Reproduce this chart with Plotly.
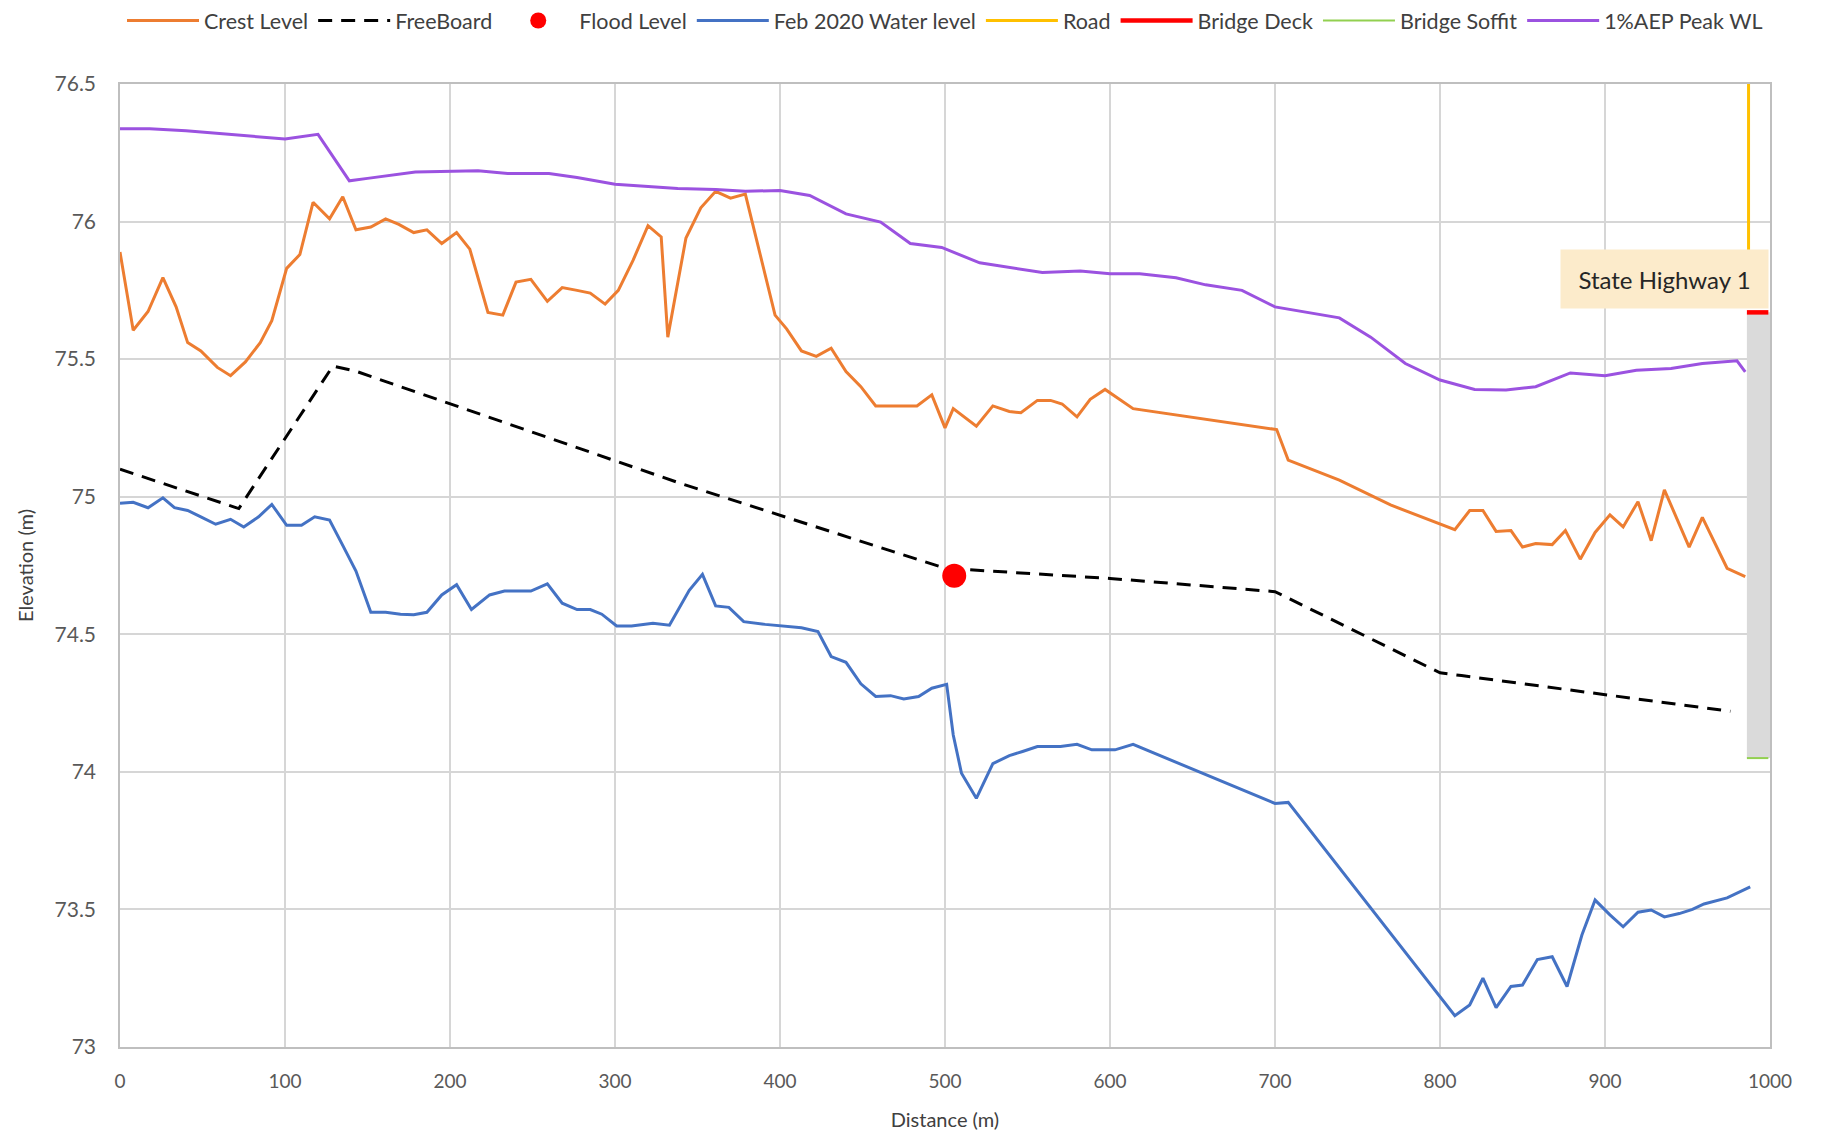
import plotly.graph_objects as go

# ---------------- data ----------------
crest_x = [0, 8, 17, 26, 34, 41, 49, 59, 67, 76, 85, 92, 101, 109, 117, 127, 135, 143, 152, 161,
           169, 178, 186, 195, 204, 212, 223, 232, 240, 249, 259, 268, 277, 285, 294, 302, 311, 320,
           328, 332, 343, 352, 361, 370, 379, 387, 397, 404, 413, 422, 431, 440, 449, 458, 483, 492,
           500, 505, 519, 529, 539, 546, 556, 564, 571, 580, 588, 597, 614, 701, 708, 739, 770, 809,
           818, 826, 834, 843, 850, 858, 868, 876, 885, 894, 903, 911, 920, 928, 936, 951, 959, 974, 985]
crest_y = [75.889, 75.605, 75.673, 75.796, 75.69, 75.56, 75.53, 75.47, 75.44, 75.49, 75.56, 75.64,
           75.83, 75.88, 76.07, 76.01, 76.09, 75.97, 75.98, 76.01, 75.99, 75.96, 75.97, 75.92, 75.96,
           75.90, 75.67, 75.66, 75.78, 75.79, 75.71, 75.76, 75.75, 75.74, 75.70, 75.75, 75.86, 75.985,
           75.944, 75.58, 75.94, 76.05, 76.11, 76.085, 76.10, 75.90, 75.66, 75.61, 75.53, 75.51, 75.54,
           75.455, 75.40, 75.33, 75.33, 75.37, 75.25, 75.32, 75.256, 75.33, 75.31, 75.305, 75.35, 75.35,
           75.337, 75.29, 75.354, 75.39, 75.32, 75.244, 75.133, 75.06, 74.97, 74.88, 74.95, 74.95,
           74.874, 74.877, 74.817, 74.83, 74.826, 74.877, 74.773, 74.87, 74.934, 74.89, 74.982, 74.84,
           75.025, 74.817, 74.925, 74.74, 74.71]

freeboard_x = [0, 72, 129, 143, 339, 500, 600, 700, 800, 813, 976]
freeboard_y = [75.1, 74.957, 75.475, 75.456, 75.05, 74.74, 74.703, 74.655, 74.36, 74.35, 74.22]

flood_x = [505.6]
flood_y = [74.713]

feb_x = [0, 8, 17, 26, 33, 41, 49, 58, 67, 75, 84, 92, 101, 110, 118, 127, 135, 143, 152, 161, 170,
         178, 186, 195, 204, 213, 224, 233, 249, 259, 268, 277, 285, 292, 301, 310, 323, 333, 345, 353,
         361, 369, 378, 391, 413, 423, 431, 440, 449, 458, 467, 475, 484, 492, 501, 505, 510, 519, 529,
         539, 547, 556, 570, 580, 589, 603, 614, 700, 708, 809, 818, 826, 834, 843, 850, 859, 868, 877,
         886, 894, 903, 911, 920, 928, 936, 945, 953, 960, 974, 988]
feb_y = [74.976, 74.98, 74.96, 74.996, 74.96, 74.95, 74.927, 74.90, 74.918, 74.89, 74.927, 74.972,
         74.896, 74.896, 74.927, 74.915, 74.823, 74.73, 74.58, 74.58, 74.573, 74.571, 74.58, 74.643,
         74.68, 74.59, 74.643, 74.657, 74.657, 74.683, 74.613, 74.59, 74.59, 74.573, 74.53, 74.53,
         74.54, 74.533, 74.66, 74.718, 74.603, 74.598, 74.546, 74.536, 74.524, 74.51, 74.419, 74.398,
         74.32, 74.274, 74.277, 74.265, 74.274, 74.304, 74.318, 74.134, 73.995, 73.904, 74.03, 74.059,
         74.074, 74.092, 74.092, 74.10, 74.08, 74.08, 74.10, 73.885, 73.889, 73.114, 73.153, 73.25,
         73.143, 73.22, 73.225, 73.318, 73.328, 73.22, 73.407, 73.534, 73.48, 73.437, 73.49, 73.498,
         73.473, 73.485, 73.50, 73.52, 73.542, 73.582]

aep_x = [0, 18, 40, 78, 100, 120, 139, 150, 179, 217, 235, 260, 277, 300, 318, 338, 361, 379, 400,
         418, 440, 461, 479, 498, 521, 559, 582, 600, 618, 640, 658, 680, 700, 720, 739, 758, 779, 800,
         821, 840, 858, 879, 900, 919, 940, 959, 980, 985]
aep_y = [76.337, 76.337, 76.33, 76.31, 76.30, 76.317, 76.148, 76.157, 76.18, 76.185, 76.175, 76.175,
         76.16, 76.136, 76.128, 76.12, 76.117, 76.11, 76.113, 76.095, 76.028, 75.998, 75.92, 75.906,
         75.85, 75.815, 75.82, 75.81, 75.81, 75.796, 75.77, 75.75, 75.69, 75.67, 75.65, 75.58, 75.484,
         75.424, 75.39, 75.388, 75.40, 75.45, 75.44, 75.46, 75.466, 75.484, 75.494, 75.454]

road_x = [987, 987]
road_y = [75.89, 76.55]

bridge_x = [986, 999]          # bridge extent (m)
deck_level = 75.67
soffit_level = 74.05

label_text = "State Highway 1"
label_x = 936
label_y = 75.79

x_ticks = [0, 100, 200, 300, 400, 500, 600, 700, 800, 900, 1000]
y_ticks = [73, 73.5, 74, 74.5, 75, 75.5, 76, 76.5]

# ---------------- figure ----------------
FONT = "Lato, 'Open Sans', sans-serif"
fig = go.Figure()

# bridge body (grey block between soffit and deck)
fig.add_trace(go.Scatter(
    x=[bridge_x[0], bridge_x[1] + 1, bridge_x[1] + 1, bridge_x[0], bridge_x[0]],
    y=[soffit_level, soffit_level, deck_level, deck_level, soffit_level],
    fill="toself", fillcolor="#DADADA", line=dict(width=0), mode="lines",
    showlegend=False, hoverinfo="skip"))

fig.add_trace(go.Scatter(x=crest_x, y=crest_y, mode="lines", name="Crest Level",
                         line=dict(color="#ED7D31", width=3)))
fig.add_trace(go.Scatter(x=freeboard_x, y=freeboard_y, mode="lines", name="FreeBoard",
                         line=dict(color="#000000", width=3, dash="14px,9px")))
fig.add_trace(go.Scatter(x=flood_x, y=flood_y, mode="markers", name="Flood Level",
                         marker=dict(color="#FF0000", size=24)))
fig.add_trace(go.Scatter(x=feb_x, y=feb_y, mode="lines", name="Feb 2020 Water level",
                         line=dict(color="#4472C4", width=3)))
fig.add_trace(go.Scatter(x=road_x, y=road_y, mode="lines", name="Road", cliponaxis=False,
                         line=dict(color="#FFC000", width=3)))
fig.add_trace(go.Scatter(x=bridge_x, y=[deck_level, deck_level], mode="lines", name="Bridge Deck",
                         line=dict(color="#FF0000", width=4.5)))
fig.add_trace(go.Scatter(x=bridge_x, y=[soffit_level, soffit_level], mode="lines",
                         name="Bridge Soffit", line=dict(color="#92D050", width=2)))
fig.add_trace(go.Scatter(x=aep_x, y=aep_y, mode="lines", name="1%AEP Peak WL",
                         line=dict(color="#9B52E0", width=3)))

fig.add_annotation(x=label_x, y=label_y, text=label_text, showarrow=False,
                   font=dict(family=FONT, size=24, color="#262626"),
                   bgcolor="#FCEBCB", width=205, height=56, borderpad=1)

fig.update_layout(
    width=1833, height=1140,
    margin=dict(l=120, r=63, t=84, b=91),
    paper_bgcolor="white", plot_bgcolor="white",
    font=dict(family=FONT, size=19, color="#595959"),
    legend=dict(orientation="h", x=0.5, xanchor="center", xref="paper",
                y=1.0, yref="container", yanchor="top",
                font=dict(family=FONT, size=21.5, color="#404040"),
                itemwidth=72, bgcolor="rgba(0,0,0,0)"),
    xaxis=dict(range=[0, 1000], tickvals=x_ticks, showgrid=True, gridcolor="#D6D6D6",
               gridwidth=1.5, zeroline=False, showline=True, linecolor="#BFBFBF",
               linewidth=1.5, mirror=True, ticks="", ticklabelstandoff=16,
               tickfont=dict(size=19),
               title=dict(text="Distance (m)", standoff=22, font=dict(size=20, color="#404040"))),
    yaxis=dict(range=[73, 76.5], tickvals=y_ticks, showgrid=True, gridcolor="#D6D6D6",
               gridwidth=1.5, zeroline=False, showline=True, linecolor="#BFBFBF",
               linewidth=1.5, mirror=True, ticks="", ticklabelstandoff=18,
               tickfont=dict(size=21),
               title=dict(text="Elevation (m)", standoff=16, font=dict(size=20, color="#404040"))),
)

fig.write_html("out.html")
